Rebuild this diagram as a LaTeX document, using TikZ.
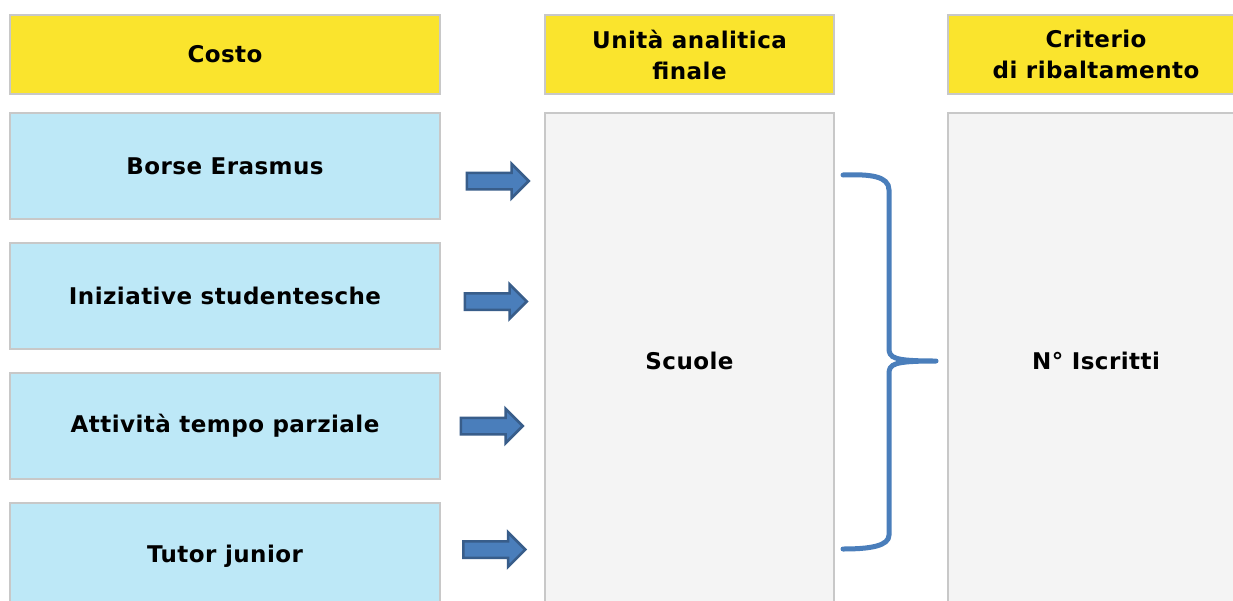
\documentclass[tikz,border=0pt]{standalone}
\usepackage{fontspec}
\setmainfont{DejaVu Sans}[LetterSpace=2]
\usetikzlibrary{shapes.arrows}
\definecolor{headyellow}{RGB}{250,228,45}
\definecolor{costblue}{RGB}{189,232,247}
\definecolor{unitgray}{RGB}{244,244,244}
\definecolor{edgegray}{RGB}{200,200,200}
\definecolor{arrowblue}{RGB}{74,126,187}
\definecolor{arrowdark}{RGB}{56,93,138}

\begin{document}
\begin{tikzpicture}[x=1pt, y=-1pt,
    boxtext/.style={font=\bfseries\fontsize{23}{31}\selectfont, align=center},
    header/.style={boxtext, draw=edgegray, line width=2pt, fill=headyellow, minimum height=79pt},
    costbox/.style={boxtext, draw=edgegray, line width=2pt, fill=costblue, minimum width=430pt, minimum height=106pt},
    unitbox/.style={boxtext, draw=edgegray, line width=2pt, fill=unitgray, minimum height=496pt},
    rightarrow/.style={single arrow, draw=arrowdark, line width=2.5pt, fill=arrowblue,
        inner xsep=0pt, inner ysep=7pt, minimum height=62pt, anchor=tail,
        single arrow head extend=9pt, single arrow head indent=0pt}
  ]
  \clip (0,0) rectangle (1233,600);
  \fill[white] (0,0) rectangle (1233,600);

  % headers
  \draw (225,54.5) node[header, minimum width=430pt](hcost){Costo};
  \draw (689.5,54.5) node[header, minimum width=289pt](hunit){Unit\`a analitica\\f{}inale};
  \draw (1096,54.5) node[header, minimum width=296pt](hcrit){Criterio\\di ribaltamento};

  % costs
  \draw (225,166) node[costbox](erasmus){Borse Erasmus};
  \draw (225,296) node[costbox](initiatives){Iniziative studentesche};
  \draw (225,426) node[costbox](parttime){Attivit\`a tempo parziale};
  \draw (225,556) node[costbox](tutor){Tutor junior};

  % final unit and criterion
  \draw (689.5,361) node[unitbox, minimum width=289pt](schools){Scuole};
  \draw (1096,361) node[unitbox, minimum width=296pt](enrolled){N° Iscritti};

  % block arrows
  \draw (465.5,181) node[rightarrow](a1){};
  \draw (463.5,301.5) node[rightarrow](a2){};
  \draw (459.5,426) node[rightarrow](a3){};
  \draw (462,549.5) node[rightarrow](a4){};

  % brace
  \coordinate (btop) at (843,175);
  \coordinate (btip) at (936,361);
  \coordinate (bbot) at (843,549);
  \draw[arrowblue, line width=5pt, line cap=round]
    (btop) .. controls (870,174) and (889,176) .. (889,190) -- (889,348)
    .. controls (889,358) and (893,361) .. (btip)
    (btip) .. controls (893,361) and (889,364) .. (889,374) -- (889,535)
    .. controls (889,546) and (870,549) .. (bbot);
\end{tikzpicture}
\end{document}
